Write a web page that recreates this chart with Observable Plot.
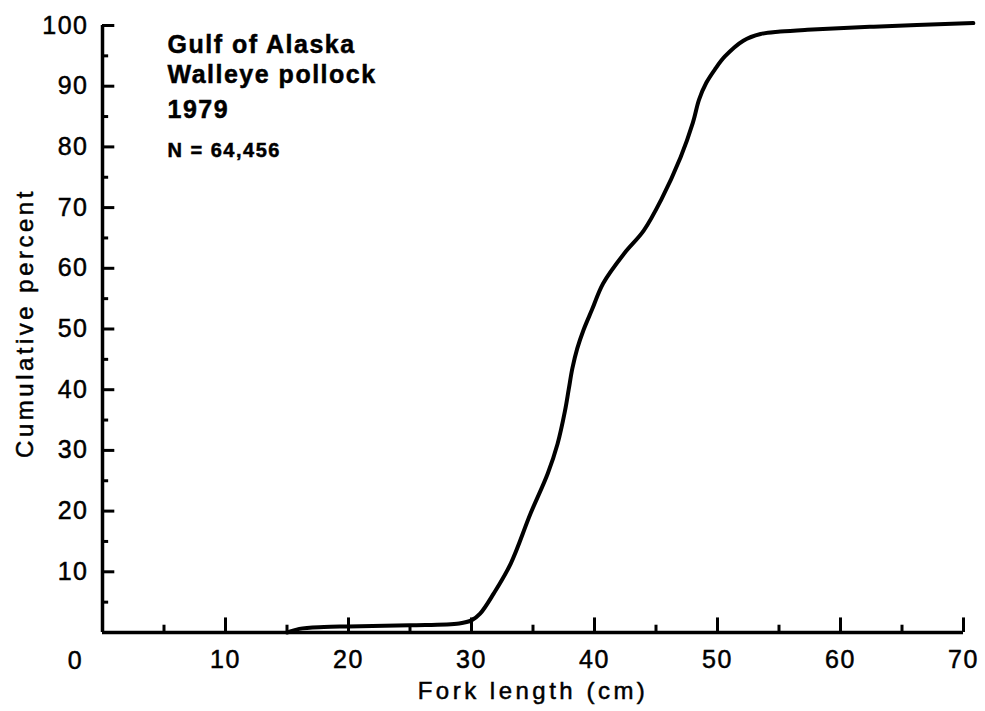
<!DOCTYPE html>
<html><head><meta charset="utf-8">
<script src="https://cdn.jsdelivr.net/npm/d3@7"></script>
<script src="https://cdn.jsdelivr.net/npm/@observablehq/plot@0.6"></script>
<style>
body{margin:0;background:#fff;}
svg{font-family:"Liberation Sans",Arial,Helvetica,sans-serif;}
</style></head><body><div id="chart"></div>
<script>
const forkLength = [15, 16, 18, 20, 25, 29, 30, 30.7, 31.8, 33.2, 34.8, 36.2, 37, 37.6, 37.9, 38.2, 38.6, 39.1, 39.8, 40.7, 42.4, 44, 45.4, 47, 48, 48.5, 49.1, 49.8, 50.6, 52.1, 53.5, 55.1, 57.3, 62.7, 70.8];
const cumulativePercent = [0, 0.6, 0.9, 1.0, 1.2, 1.5, 2.0, 3.1, 6.4, 11.4, 19.6, 26.2, 31.1, 36.5, 40.0, 43.5, 46.8, 49.8, 53.2, 57.5, 62.4, 66.2, 71.2, 78.3, 84.0, 87.8, 90.6, 92.8, 94.9, 97.5, 98.6, 99.0, 99.3, 99.8, 100.4];
const xTickLabels = [10, 20, 30, 40, 50, 60, 70];
const xMinorTicks = [5, 15, 25, 35, 45, 55, 65];
const yTickLabels = [10, 20, 30, 40, 50, 60, 70, 80, 90, 100];
const yMinorTicks = [5, 15, 25, 35, 45, 55, 65, 75, 85, 95];
const originLabel = "0";
const titleLine1 = "Gulf of Alaska";
const titleLine2 = "Walleye pollock";
const titleLine3 = "1979";
const sampleSize = "N = 64,456";
const xLabel = "Fork length (cm)";
const yLabel = "Cumulative percent";

const data = forkLength.map((x, i) => ({x, y: cumulativePercent[i]}));
const sw = 3;
const chart = Plot.plot({
  width: 985, height: 711,
  marginLeft: 102, marginRight: 22, marginTop: 25, marginBottom: 79,
  style: {background: "#fff", color: "#000", overflow: "visible", fontFamily: "'Liberation Sans', Arial, sans-serif"},
  x: {domain: [0, 70]},
  y: {domain: [0, 100]},
  marks: [
    Plot.axisX({ticks: xTickLabels, tickSize: 0, tickPadding: 18, fontSize: 25, label: null}),
    Plot.axisY({ticks: yTickLabels, tickSize: 0, tickPadding: 14, fontSize: 25, label: null}),
    Plot.ruleX(xTickLabels, {x: d => d, y1: 0, y2: 2.4, strokeWidth: sw}),
    Plot.ruleX(xMinorTicks, {x: d => d, y1: 0, y2: 1.2, strokeWidth: sw}),
    Plot.ruleY(yTickLabels, {y: d => d, x1: 0, x2: 1, strokeWidth: sw}),
    Plot.ruleY(yMinorTicks, {y: d => d, x1: 0, x2: 0.5, strokeWidth: sw}),
    Plot.ruleX([0], {y1: 0, y2: 100, strokeWidth: 3.5}),
    Plot.ruleY([0], {x1: 0, x2: 70, strokeWidth: 3.5}),
    Plot.line(data, {x: "x", y: "y", curve: "catmull-rom", strokeWidth: 4}),
    Plot.text([originLabel], {x: 0, y: 0, text: d => d, dx: -27, dy: 28, fontSize: 25}),
    Plot.text([xLabel], {frameAnchor: "bottom", text: d => d, dy: 59, lineAnchor: "middle", textAnchor: "middle", fontSize: 24}),
    Plot.text([yLabel], {frameAnchor: "left", text: d => d, rotate: -90, dx: -77, dy: -6, textAnchor: "middle", lineAnchor: "middle", fontSize: 24}),
    Plot.text([titleLine1], {frameAnchor: "top-left", text: d => d, dx: 65, dy: 10, lineAnchor: "top", textAnchor: "start", fontSize: 25, fontWeight: "bold"}),
    Plot.text([titleLine2], {frameAnchor: "top-left", text: d => d, dx: 65, dy: 40, lineAnchor: "top", textAnchor: "start", fontSize: 25, fontWeight: "bold"}),
    Plot.text([titleLine3], {frameAnchor: "top-left", text: d => d, dx: 65, dy: 75, lineAnchor: "top", textAnchor: "start", fontSize: 25, fontWeight: "bold"}),
    Plot.text([sampleSize], {frameAnchor: "top-left", text: d => d, dx: 65, dy: 117, lineAnchor: "top", textAnchor: "start", fontSize: 20, fontWeight: "bold"})
  ]
});
d3.select(chart).selectAll("text").each(function() {
  const t = this.textContent;
  if (t === xLabel || t === yLabel) this.style.letterSpacing = "3.5px";
  else this.style.letterSpacing = "1.5px";
  this.style.stroke = "#000";
  this.style.strokeWidth = "0.5px";
});
document.getElementById("chart").appendChild(chart);
</script></body></html>
